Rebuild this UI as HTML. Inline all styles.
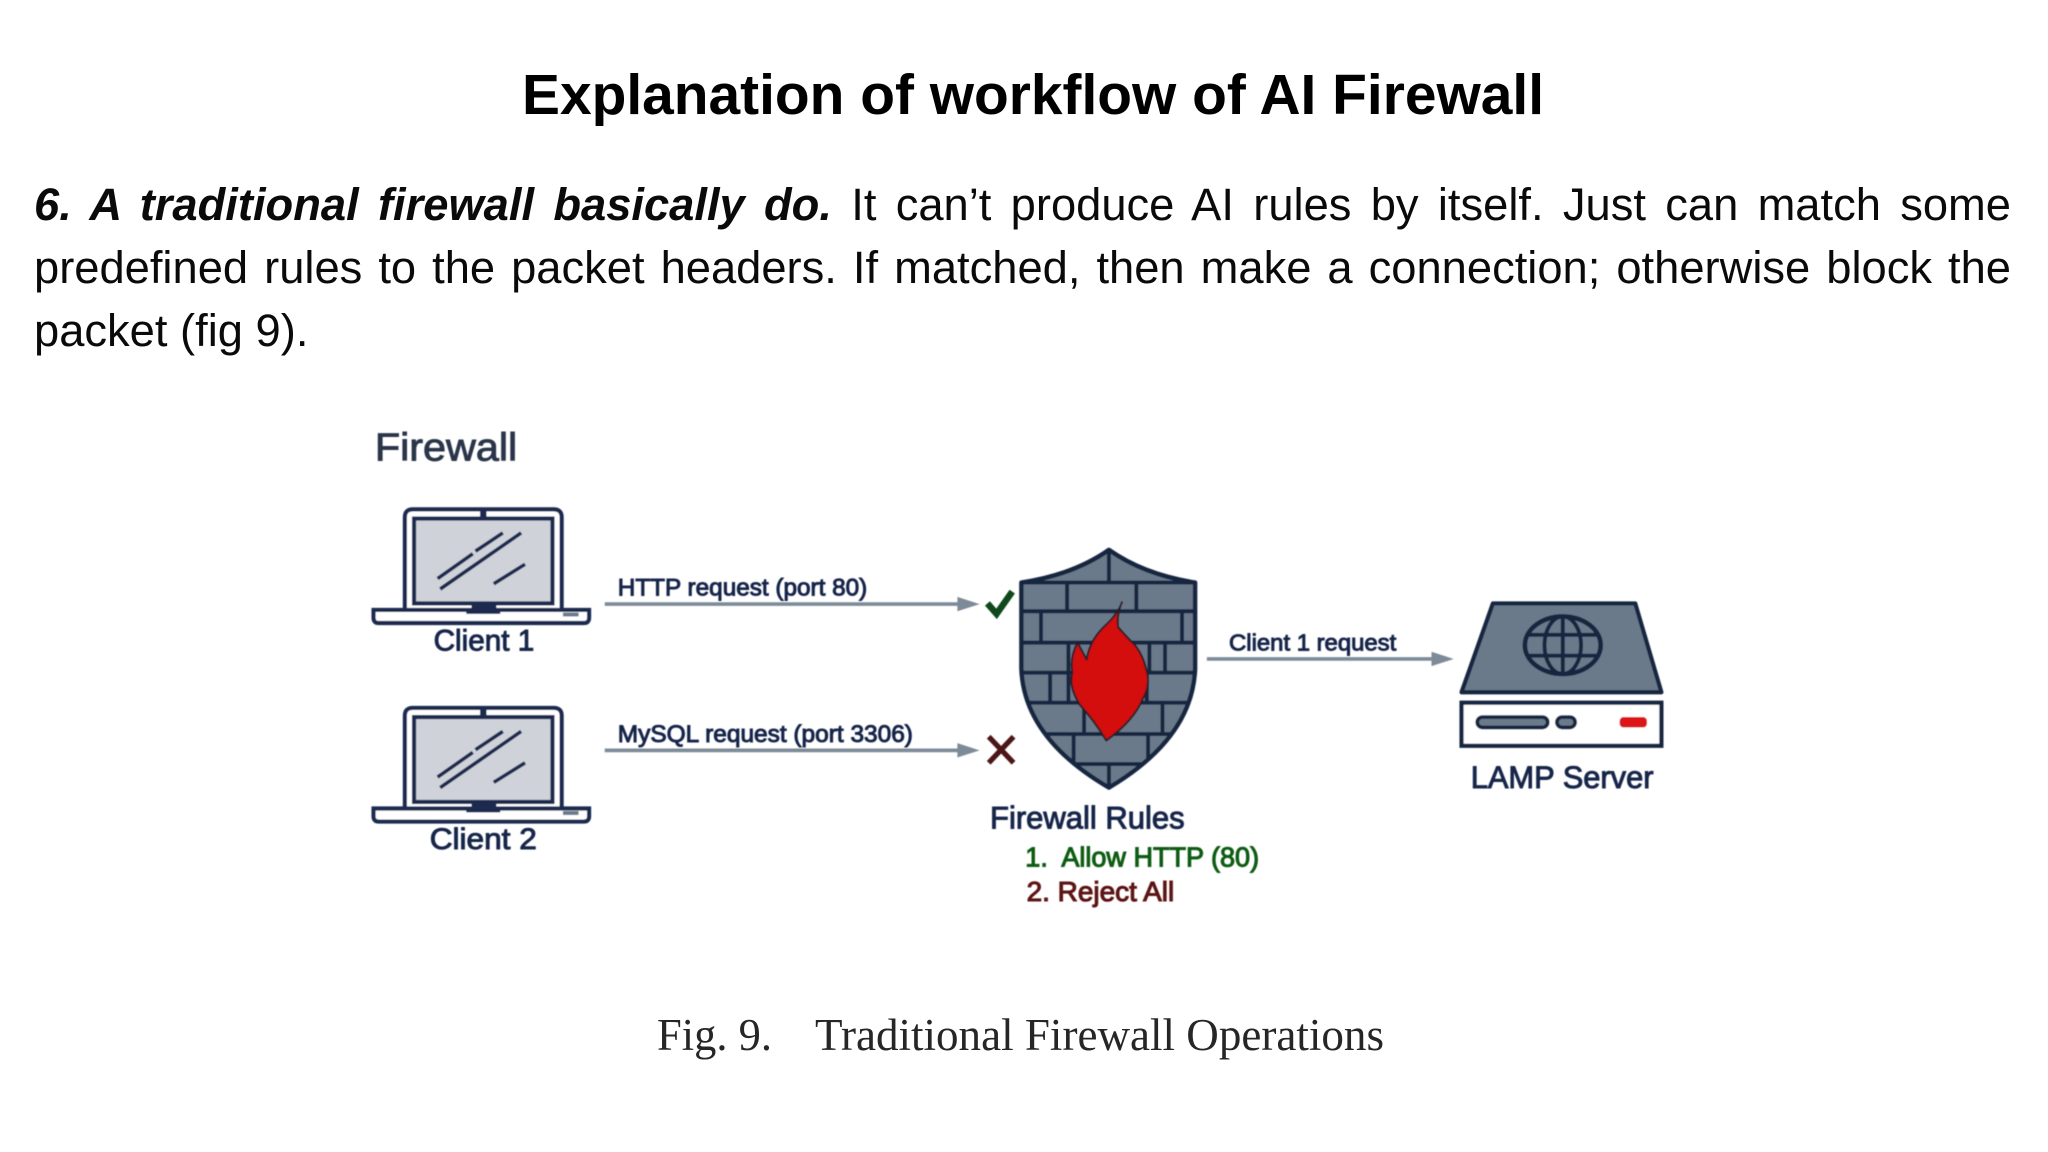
<!DOCTYPE html>
<html><head><meta charset="utf-8">
<style>
html,body{margin:0;padding:0;background:#fff;width:2048px;height:1152px;overflow:hidden}
.l{position:absolute;left:34px;width:1977px;font:45.3px/62px "Liberation Sans",sans-serif;color:#0a0a0a;white-space:normal;text-align:justify;text-align-last:justify;height:62px;overflow:hidden}
svg{position:absolute;left:0;top:0}
</style></head><body>
<svg width="2048" height="1152" viewBox="0 0 2048 1152" style="z-index:1">
<text x="522" y="114" font-family="Liberation Sans" font-weight="700" font-size="57" fill="#000" textLength="1022" lengthAdjust="spacingAndGlyphs">Explanation of workflow of AI Firewall</text>
<g font-family="Liberation Serif" font-size="45" fill="#262626">
<text x="657" y="1050" textLength="115" lengthAdjust="spacingAndGlyphs">Fig. 9.</text>
<text x="815" y="1050" textLength="569" lengthAdjust="spacingAndGlyphs">Traditional Firewall Operations</text>
</g>
</svg>
<div class="l" style="top:174px"><b><i>6. A traditional firewall basically do.</i></b> It can’t produce AI rules by itself. Just can match some</div>
<div class="l" style="top:237px">predefined rules to the packet headers. If matched, then make a connection; otherwise block the</div>
<div class="l" style="top:300px;text-align-last:left">packet (fig 9).</div>
<svg width="2048" height="1152" viewBox="0 0 1568 882" style="z-index:2">
<defs>
<filter id="b" x="-5%" y="-5%" width="110%" height="110%"><feGaussianBlur stdDeviation="0.5"/></filter>
<clipPath id="sc"><path d="M849 421Q822 440 782 446V512Q784 565 849 603Q913 565 915 512V446Q876 440 849 421Z"/></clipPath>
<g id="lap">
<path d="M310 467V396q0-6 6-6H424q6 0 6 6V467" fill="#fff" stroke="#1c2c50" stroke-width="3.200"/>
<rect x="317" y="397" width="106" height="65" fill="#cfd3d9" stroke="#1c2c50" stroke-width="3.200"/>
<rect x="367.500" y="390" width="5" height="7" fill="#1c2c50"/>
<path d="M335 443L362 424M364 422L385 408M337 451L399 408M378 447L402 432" stroke="#1c2c50" stroke-width="2.800" fill="none"/>
<path d="M286 467H451V473Q451 477 447 477H290Q286 477 286 473Z" fill="#fff" stroke="#1c2c50" stroke-width="3.200"/>
<rect x="361" y="463" width="19" height="3" fill="#1c2c50"/>
<rect x="357" y="467" width="26" height="3" fill="#1c2c50"/>
<rect x="431" y="469" width="12" height="3" fill="#6b7a8a"/>
</g>
</defs>
<g filter="url(#b)">
<text x="287" y="352.500" font-family="Liberation Sans" font-size="30" fill="#2a3648" stroke="#2a3648" stroke-width=".7" textLength="109" lengthAdjust="spacingAndGlyphs">Firewall</text>
<use href="#lap"/>
<use href="#lap" y="152"/>
<g font-family="Liberation Sans" fill="#14254a" stroke="#14254a" stroke-width=".75">
<text x="332" y="498" font-size="23" textLength="77" lengthAdjust="spacingAndGlyphs">Client 1</text>
<text x="329" y="650" font-size="23" textLength="82" lengthAdjust="spacingAndGlyphs">Client 2</text>
<text x="473" y="456" font-size="18.5" textLength="191" lengthAdjust="spacingAndGlyphs">HTTP request (port 80)</text>
<text x="473" y="568" font-size="18.5" textLength="226" lengthAdjust="spacingAndGlyphs">MySQL request (port 3306)</text>
<text x="941" y="498" font-size="18" textLength="128" lengthAdjust="spacingAndGlyphs">Client 1 request</text>
<text x="758" y="634.500" font-size="24" textLength="149" lengthAdjust="spacingAndGlyphs">Firewall Rules</text>
<text x="1126" y="603.500" font-size="24" textLength="140" lengthAdjust="spacingAndGlyphs">LAMP Server</text>
</g>
<text x="785" y="663.500" font-family="Liberation Sans" font-size="21" fill="#0d5c12" stroke="#0d5c12" stroke-width=".8" textLength="179" lengthAdjust="spacingAndGlyphs" xml:space="preserve">1.  Allow HTTP (80)</text>
<text x="786" y="690" font-family="Liberation Sans" font-size="21" fill="#5c1212" stroke="#5c1212" stroke-width=".8" textLength="113" lengthAdjust="spacingAndGlyphs">2. Reject All</text>
<g stroke="#7d8b98" stroke-width="2.800" fill="#7d8b98">
<path d="M463 462.500H736M463 574.500H736M924 504.500H1100" fill="none"/>
<path d="M733 457L750 462.500L733 468ZM733 569L750 574.500L733 580ZM1096 499L1113 504.500L1096 510Z" stroke="none"/>
</g>
<path d="M756 462L763 470L775 453" fill="none" stroke="#10491a" stroke-width="5"/>
<path d="M757 564L776 584M776 564L757 584" fill="none" stroke="#4c1414" stroke-width="4"/>
<path d="M849 421Q822 440 782 446V512Q784 565 849 603Q913 565 915 512V446Q876 440 849 421Z" fill="#6b7a8a"/>
<g clip-path="url(#sc)">
<path d="M775 446H925M775 468H925M775 492H925M775 515H925M775 538H925M775 562H925M775 585H925M849 415V446M817 446V468M870 446V468M797 468V492M905 468V492M818 492V515M880 492V515M892 492V515M804 515V538M818 515V538M878 515V538M830 538V562M890 538V562M822 562V585M879 562V585M849 585V605" fill="none" stroke="#17253f" stroke-width="3"/>
</g>
<path d="M849 421Q822 440 782 446V512Q784 565 849 603Q913 565 915 512V446Q876 440 849 421Z" fill="none" stroke="#17253f" stroke-width="3.400" stroke-linejoin="round"/>
<path d="M859 461Q856 470 845 480Q834 491 832 505L825 492Q819 503 821 515Q818 526 827 540Q838 552 847 567Q868 552 875 535Q881 525 878 514Q875 501 869 494Q861 486 856 480Q855 470 859 461Z" fill="#d40d0d" stroke="#2a1a25" stroke-width="1.500" stroke-linejoin="round"/>
<path d="M1143 462H1252L1272 530H1119Z" fill="#6b7a8a" stroke="#17253f" stroke-width="3.200" stroke-linejoin="round"/>
<ellipse cx="1196.500" cy="494" rx="29" ry="22" fill="#6b7a8a" stroke="#17253f" stroke-width="3.600"/>
<g fill="none" stroke="#17253f" stroke-width="3">
<ellipse cx="1196.500" cy="494" rx="14" ry="22"/>
<path d="M1196.500 472V516M1170 486H1223M1170 502H1223"/>
</g>
<rect x="1119" y="538" width="153" height="33" fill="#fff" stroke="#17253f" stroke-width="3.200"/>
<rect x="1131" y="549" width="54" height="8" rx="4" fill="#6b7a8a" stroke="#17253f" stroke-width="2.800"/>
<rect x="1192" y="549" width="14" height="8" rx="4" fill="#6b7a8a" stroke="#17253f" stroke-width="2.800"/>
<rect x="1240" y="549" width="21" height="8" rx="3" fill="#dc1414"/>
</g>
</svg>
</body></html>
